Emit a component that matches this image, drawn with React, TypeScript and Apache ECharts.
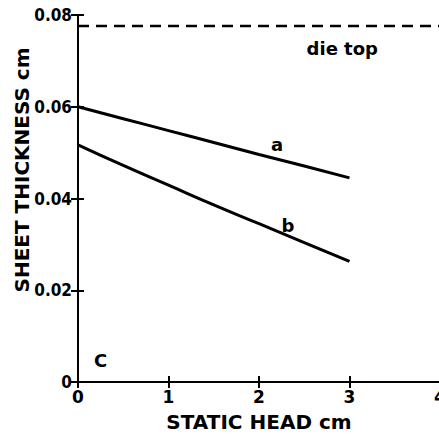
import React, { useEffect, useRef } from "react";
import * as echarts from "echarts";

const headX = [0, 0.5, 1, 1.5, 2, 2.5, 3];
const curveA = [0.06, 0.0574, 0.0548, 0.0522, 0.0496, 0.0471, 0.0445];
const curveB = [0.0517, 0.0472, 0.0429, 0.0386, 0.0345, 0.0304, 0.0263];
const dieTop = 0.0776;
const xTicks = [0, 1, 2, 3, 4];
const yTicks = [0, 0.02, 0.04, 0.06, 0.08];
const yTitle = "SHEET THICKNESS cm";
const xTitle = "STATIC HEAD cm";

const FONT = "DejaVu Sans";
const TICK_FONT = "'DejaVu Sans Condensed', 'DejaVu Sans'";

export default function App() {
  const ref = useRef<HTMLDivElement>(null);
  useEffect(() => {
    const chart = echarts.init(ref.current!, null, { renderer: "svg" });
    const txt = { fontFamily: FONT, fontWeight: "bold" as const, color: "#000" };
    const axisLine = { show: true, lineStyle: { color: "#000", width: 2 } };
    chart.setOption({
      animation: false,
      backgroundColor: "#fff",
      grid: { left: 78, top: 15, width: 362, height: 367, outerBoundsMode: "none", containLabel: false },
      graphic: [
        {
          type: "text",
          x: 22,
          y: 170,
          rotation: Math.PI / 2,
          style: {
            text: yTitle,
            fontFamily: FONT,
            fontWeight: "bold",
            fontSize: 20,
            fill: "#000",
            align: "center",
            verticalAlign: "middle",
          },
        },
      ],
      xAxis: [
        {
          type: "value",
          min: 0,
          max: 4,
          interval: 1,
          position: "bottom",
          name: xTitle,
          nameLocation: "middle",
          nameGap: 30,
          nameTextStyle: { ...txt, fontSize: 20 },
          axisLine,
          axisTick: { show: true, inside: true, length: 6, lineStyle: { color: "#000", width: 2 } },
          axisLabel: {
            ...txt,
            fontSize: 17,
            margin: 6,
            formatter: (v: number) => (xTicks.includes(v) ? String(v) : ""),
          },
          splitLine: { show: false },
        },
        {
          type: "value",
          min: 0,
          max: 4,
          interval: 1,
          position: "top",
          axisLine,
          axisTick: { show: true, inside: true, length: 6, lineStyle: { color: "#000", width: 2 } },
          axisLabel: { show: false },
          splitLine: { show: false },
        },
      ],
      yAxis: [
        {
          type: "value",
          min: 0,
          max: 0.08,
          interval: 0.02,
          position: "left",
          axisLine,
          axisTick: { show: true, inside: true, length: 6, lineStyle: { color: "#000", width: 2 } },
          axisLabel: {
            ...txt,
            fontFamily: TICK_FONT,
            fontSize: 17,
            margin: 6,
            formatter: (v: number) => {
              const t = yTicks.find((y) => Math.abs(y - v) < 1e-9);
              if (t === undefined) return "";
              return t === 0 ? "0" : t.toFixed(2);
            },
          },
          splitLine: { show: false },
        },
        {
          type: "value",
          min: 0,
          max: 0.08,
          interval: 0.02,
          position: "right",
          axisLine: { show: false },
          axisTick: { show: true, inside: true, length: 7, lineStyle: { color: "#000", width: 2 } },
          axisLabel: { show: false },
          splitLine: { show: false },
        },
      ],
      series: [
        {
          type: "line",
          data: headX.map((x, i) => [x, curveA[i]]),
          symbol: "none",
          smooth: true,
          lineStyle: { color: "#000", width: 3 },
          markPoint: {
            symbol: "circle",
            symbolSize: 0,
            label: { show: true, ...txt, fontSize: 18, formatter: "a" },
            data: [{ coord: [2.2, 0.0517] }],
          },
        },
        {
          type: "line",
          data: headX.map((x, i) => [x, curveB[i]]),
          symbol: "none",
          smooth: true,
          lineStyle: { color: "#000", width: 3 },
          markPoint: {
            symbol: "circle",
            symbolSize: 0,
            label: { show: true, ...txt, fontSize: 18, formatter: "b" },
            data: [{ coord: [2.32, 0.0342] }],
          },
        },
        {
          type: "line",
          data: [
            [0, dieTop],
            [4, dieTop],
          ],
          symbol: "none",
          lineStyle: { color: "#000", width: 2.5, type: [11, 7] },
          markPoint: {
            symbol: "circle",
            symbolSize: 0,
            label: { show: true, ...txt, fontSize: 18, formatter: "die top" },
            data: [{ coord: [2.92, 0.0728] }],
          },
        },
        {
          type: "scatter",
          data: [],
          markPoint: {
            symbol: "circle",
            symbolSize: 0,
            label: { show: true, ...txt, fontSize: 18, formatter: "C" },
            data: [{ coord: [0.25, 0.0046] }],
          },
        },
      ],
    });
    return () => chart.dispose();
  }, []);
  return (
    <div
      ref={ref}
      style={{ position: "fixed", left: 0, top: 0, width: 439, height: 435, background: "#fff" }}
    />
  );
}
